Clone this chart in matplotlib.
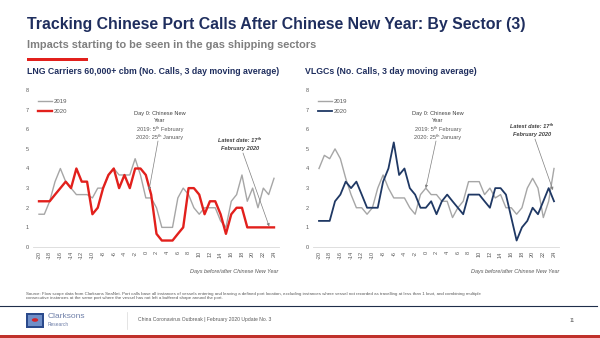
import matplotlib
matplotlib.use("Agg")
import matplotlib.pyplot as plt
from matplotlib.patches import Rectangle, Circle
import numpy as np

days = list(range(-20, 25))
tick_days = list(range(-20, 25, 2))

lng_2019 = [1.67, 1.67, 2.33, 3.33, 4.0, 3.33, 3.0, 2.67, 2.67, 2.67, 2.5,
            3.0, 3.0, 3.67, 4.0, 3.67, 3.67, 3.67, 4.5, 3.67, 2.5, 2.5, 2.0,
            1.0, 1.0, 1.0, 2.5, 3.0, 2.67, 2.0, 1.67, 2.0, 2.0, 2.0, 1.33,
            1.0, 2.33, 2.67, 3.67, 2.33, 3.0, 2.0, 3.0, 2.67, 3.5]
lng_2020 = [2.33, 2.33, 2.33, 2.67, 3.0, 3.33, 3.0, 4.0, 3.33, 3.33, 1.67,
            2.0, 3.0, 3.67, 4.0, 3.0, 3.67, 3.0, 4.0, 4.0, 3.67, 2.67, 0.67,
            0.33, 0.33, 0.33, 0.67, 1.0, 3.0, 3.0, 2.67, 1.67, 2.33, 2.33, 1.67,
            0.67, 1.67, 2.0, 2.0, 1.0, 1.0, 1.0, 1.0, 1.0, 1.0]
vlgc_2019 = [4.0, 4.67, 4.5, 5.0, 4.5, 3.5, 2.67, 2.0, 2.0, 1.67, 2.0,
             3.0, 3.67, 3.0, 2.5, 2.5, 2.5, 2.0, 1.67, 2.67, 3.0, 2.67, 2.67,
             2.33, 2.33, 1.5, 2.0, 2.33, 3.33, 3.33, 3.33, 2.67, 3.0, 2.5, 2.67,
             2.0, 2.0, 1.67, 2.0, 3.0, 3.5, 3.0, 1.5, 2.33, 4.0]
vlgc_2020 = [1.33, 1.33, 1.33, 2.33, 2.67, 3.33, 3.0, 3.33, 2.67, 2.0, 2.0,
             2.0, 3.33, 4.0, 5.33, 3.67, 4.0, 3.0, 2.67, 2.0, 2.0, 2.33, 1.67,
             2.33, 2.67, 2.33, 2.0, 1.67, 2.67, 2.67, 2.67, 2.33, 2.0, 3.0, 3.0,
             2.67, 1.5, 0.33, 1.0, 1.33, 2.0, 1.67, 2.33, 3.0, 2.33]

W, H = 600, 338
fig = plt.figure(figsize=(6, 3.38), dpi=100)
plt.rcParams['font.family'] = ['Liberation Sans', 'DejaVu Sans']

def fx(px):
    return px / W

def fy(py):
    return 1 - py / H

NAVY = '#1F2E5E'
GRAY = '#A6A6A6'
RED = '#E2201C'
DNAVY = '#1F3864'
TXT = '#595959'

# Titles
fig.text(fx(27), fy(25), 'Tracking Chinese Port Calls After Chinese New Year: By Sector (3)',
         fontsize=11.4, fontweight='bold', color=NAVY, va='center', ha='left')
fig.text(fx(27), fy(45), 'Impacts starting to be seen in the gas shipping sectors',
         fontsize=7.9, fontweight='bold', color='#7F7F7F', va='center', ha='left')
fig.add_artist(Rectangle((fx(27), fy(61)), fx(61), 3 / H, transform=fig.transFigure,
                         color=RED, lw=0))

fig.text(fx(27), fy(72), 'LNG Carriers 60,000+ cbm (No. Calls, 3 day moving average)',
         fontsize=6.3, fontweight='bold', color=NAVY, va='center', ha='left')
fig.text(fx(305), fy(72), 'VLGCs (No. Calls, 3 day moving average)',
         fontsize=6.3, fontweight='bold', color=NAVY, va='center', ha='left')

ppd = (274 - 39) / 44.0  # pixels per day
y0, y8 = 247, 90

def make_ax(left_px):
    l = left_px - 6
    r = left_px + 44 * ppd + 5
    ax = fig.add_axes([fx(l), fy(y0), (r - l) / W, (y0 - y8) / H])
    ax.set_xlim(-20 - 6 / ppd, 24 + 5 / ppd)
    ax.set_ylim(0, 8)
    for s in ['top', 'right', 'left']:
        ax.spines[s].set_visible(False)
    ax.spines['bottom'].set_color('#D9D9D9')
    ax.spines['bottom'].set_linewidth(0.6)
    ax.set_xticks(tick_days)
    ax.set_xticklabels([str(d) for d in tick_days], rotation=90, fontsize=4.0, color=TXT)
    ax.set_yticks(range(0, 9))
    ax.set_yticklabels([str(v) for v in range(0, 9)], fontsize=4.0, color=TXT)
    ax.tick_params(length=0, pad=3)
    ax.patch.set_alpha(0)
    return ax

ax1 = make_ax(39)
ax1.plot(days, lng_2019, color=GRAY, lw=1.0, label='2019')
ax1.plot(days, lng_2020, color=RED, lw=1.7, label='2020')

ax2 = make_ax(319)
ax2.plot(days, vlgc_2019, color=GRAY, lw=1.0, label='2019')
ax2.plot(days, vlgc_2020, color=DNAVY, lw=1.3, label='2020')

for ax in (ax1, ax2):
    leg = ax.legend(loc='upper left', bbox_to_anchor=(0.0, 0.98), frameon=False,
                    fontsize=4.3, handlelength=2.2, labelspacing=0.9, handletextpad=0.4)
    for t in leg.get_texts():
        t.set_color(TXT)

arrow = dict(arrowstyle='-|>', color='#7F7F7F', lw=0.5, mutation_scale=4,
             shrinkA=0, shrinkB=0)

def px2d(px, left_px):
    return -20 + (px - left_px) / ppd

def py2v(py):
    return (y0 - py) / ((y0 - y8) / 8.0)

FAM = ['Liberation Sans', 'DejaVu Sans']

def day0(ax, left_px, cx, xp, yp):
    lines = [('Day 0: Chinese New', '#404040', 113),
             ('Year', '#404040', 120.5),
             ('2019: 5ᵗʰ February', TXT, 128.5),
             ('2020: 25ᵗʰ January', TXT, 136.5)]
    for s, c, py in lines:
        fig.text(fx(cx), fy(py), s, fontsize=4.1, color=c, ha='center', va='center',
                 family=FAM)
    ax.annotate('', xy=(xp, yp), xytext=(px2d(cx - 2, left_px), py2v(141)), arrowprops=arrow)

def latest(ax, left_px, cx, py1, xp, yp):
    for s, py in [('Latest date: 17ᵗʰ', py1), ('February 2020', py1 + 8.5)]:
        fig.text(fx(cx), fy(py), s, fontsize=4.1, color='#404040', ha='center',
                 va='center', style='italic', fontweight='bold', family=FAM)
    ax.annotate('', xy=(xp, yp), xytext=(px2d(cx + 3, left_px), py2v(py1 + 13)), arrowprops=arrow)

day0(ax1, 39, 160, 0.6, 2.9)
latest(ax1, 39, 240, 140, 23.1, 1.05)
day0(ax2, 319, 438, 0.0, 3.0)
latest(ax2, 319, 532, 126, 23.8, 2.9)

fig.text(fx(278), fy(272), 'Days before/after Chinese New Year', fontsize=4.0,
         style='italic', color=TXT, ha='right', va='center')
fig.text(fx(559), fy(272), 'Days before/after Chinese New Year', fontsize=4.0,
         style='italic', color=TXT, ha='right', va='center')

# Source
fig.text(fx(26), fy(296),
         'Source: Flow scope data from Clarksons SeaNet. Port calls base all instances of vessels entering and leaving a defined port location, '
         'excluding instances where vessel not recorded as travelling at less than 1 knot, and combining multiple\n'
         'consecutive instances at the same port where the vessel has not left a buffered shape around the port.',
         fontsize=3.15, color=TXT, ha='left', va='center', linespacing=1.1)

# footer
fig.add_artist(plt.Line2D([fx(0), fx(597)], [fy(306), fy(306)], transform=fig.transFigure,
                          color='#1F2E4A', lw=0.8))
fig.add_artist(plt.Line2D([fx(127), fx(127)], [fy(312), fy(329)], transform=fig.transFigure,
                          color='#D9D9D9', lw=0.5))
fig.add_artist(Rectangle((fx(26), fy(328)), 18 / W, 15 / H, transform=fig.transFigure,
                         color='#2B4A8B', lw=0))
fig.add_artist(Rectangle((fx(28), fy(326)), 14 / W, 11 / H, transform=fig.transFigure,
                         color='#6F8FC8', lw=0))
fig.add_artist(Circle((fx(35), fy(320)), 3.2 / W, transform=fig.transFigure,
                      color='#D2232A', lw=0))
fig.text(fx(48), fy(316), 'Clarksons', fontsize=6.0, color='#6E7FA8', ha='left', va='center')
fig.text(fx(48), fy(325), 'Research', fontsize=3.5, color='#6E7FA8', ha='left', va='center')
fig.text(fx(138), fy(320), 'China Coronavirus Outbreak | February 2020 Update No. 3',
         fontsize=3.6, color=TXT, ha='left', va='center')
fig.text(fx(572), fy(320), '11', fontsize=3.6, color=TXT, ha='center', va='center')
fig.add_artist(Rectangle((0, 0), 1, 3 / H, transform=fig.transFigure,
                         color='#C0312B', lw=0))

fig.savefig('out.png', dpi=100)
